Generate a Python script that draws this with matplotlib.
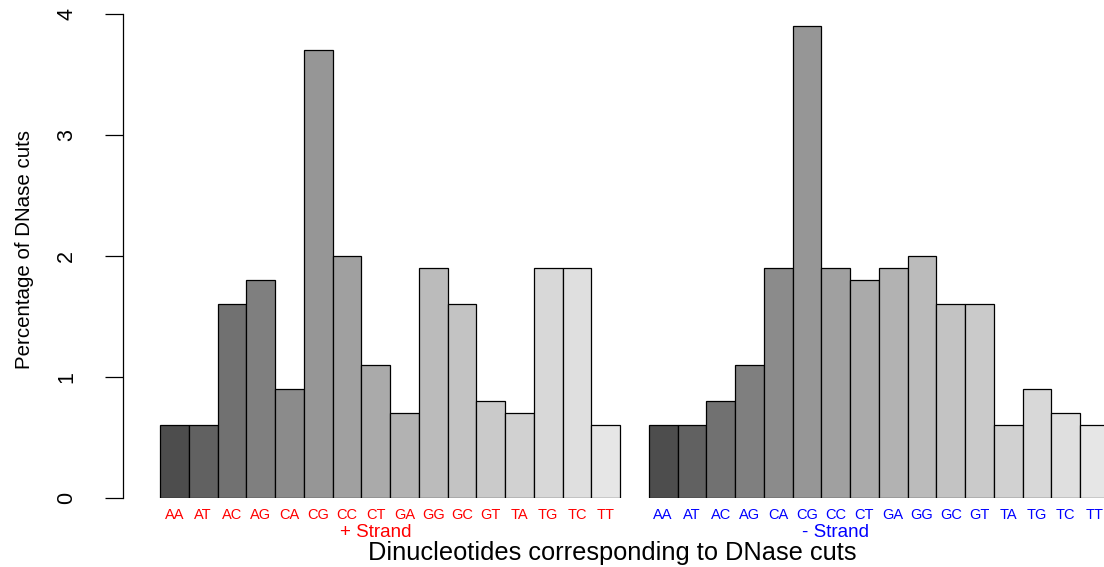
import matplotlib
matplotlib.use("Agg")
import matplotlib.pyplot as plt
import numpy as np

plt.rcParams['font.family'] = ['Liberation Sans', 'DejaVu Sans']

dinucs = ["AA", "AT", "AC", "AG", "CA", "CG", "CC", "CT",
          "GA", "GG", "GC", "GT", "TA", "TG", "TC", "TT"]
plus_pct = [0.6, 0.6, 1.6, 1.8, 0.9, 3.7, 2.0, 1.1,
            0.7, 1.9, 1.6, 0.8, 0.7, 1.9, 1.9, 0.6]
minus_pct = [0.6, 0.6, 0.8, 1.1, 1.9, 3.9, 1.9, 1.8,
             1.9, 2.0, 1.6, 1.6, 0.6, 0.9, 0.7, 0.6]
strand_names = ["+ Strand", "- Strand"]
strand_colors = ["red", "blue"]

# grey ramp like R's gray.colors(16): 0.3 -> 0.9 with gamma 2.2
n = len(dinucs)
lev = np.linspace(0.3 ** 2.2, 0.9 ** 2.2, n) ** (1 / 2.2)
greys = [(v, v, v) for v in lev]

fig = plt.figure(figsize=(11.04, 5.67), dpi=100)
ax = fig.add_axes([123 / 1104, 69 / 567, 981 / 1104, 484 / 567])

# the two strands share one axis, separated by a one-bar gap
x_plus = np.arange(n)
x_minus = np.arange(n) + n + 1
ax.bar(x_plus, plus_pct, width=1, align='edge', color=greys,
       edgecolor='black', linewidth=0.9)
ax.bar(x_minus, minus_pct, width=1, align='edge', color=greys,
       edgecolor='black', linewidth=0.9)

ax.set_xlim(-1.287, 32.83)
ax.set_ylim(0, 4)

for s in ['top', 'right', 'bottom']:
    ax.spines[s].set_visible(False)
ax.spines['left'].set_bounds(0, 4)
ax.spines['left'].set_linewidth(0.9)

ax.set_yticks([0, 1, 2, 3, 4])
ax.set_yticklabels(["0", "1", "2", "3", "4"], rotation=90, va='center')
ax.tick_params(axis='y', length=13, width=0.9, pad=20, labelsize=15.5)

centers = np.concatenate([x_plus, x_minus]) + 0.5
ax.set_xticks(centers)
ax.set_xticklabels(dinucs + dinucs)
ax.tick_params(axis='x', length=0, pad=7, labelsize=10.5)
for i, lbl in enumerate(ax.get_xticklabels()):
    lbl.set_color(strand_colors[0] if i < n else strand_colors[1])

# strand captions under each group
for xpos, name, col in zip([7.5, 17 + 6.5], strand_names, strand_colors):
    ax.annotate(name, xy=(xpos, 0), xycoords=('data', 'axes fraction'),
                xytext=(0, -25), textcoords='offset points',
                ha='center', va='center', color=col, fontsize=13.5)

ax.set_xlabel("Dinucleotides corresponding to DNase cuts", fontsize=18.3)
ax.xaxis.label.set_va('center')
ax.xaxis.set_label_coords(0.4985, -0.1136)
ax.set_ylabel("Percentage of DNase cuts", fontsize=14.8)
ax.yaxis.label.set_va('center')
ax.yaxis.set_label_coords(-0.1, 0.513)

fig.savefig("out.png", dpi=100)
